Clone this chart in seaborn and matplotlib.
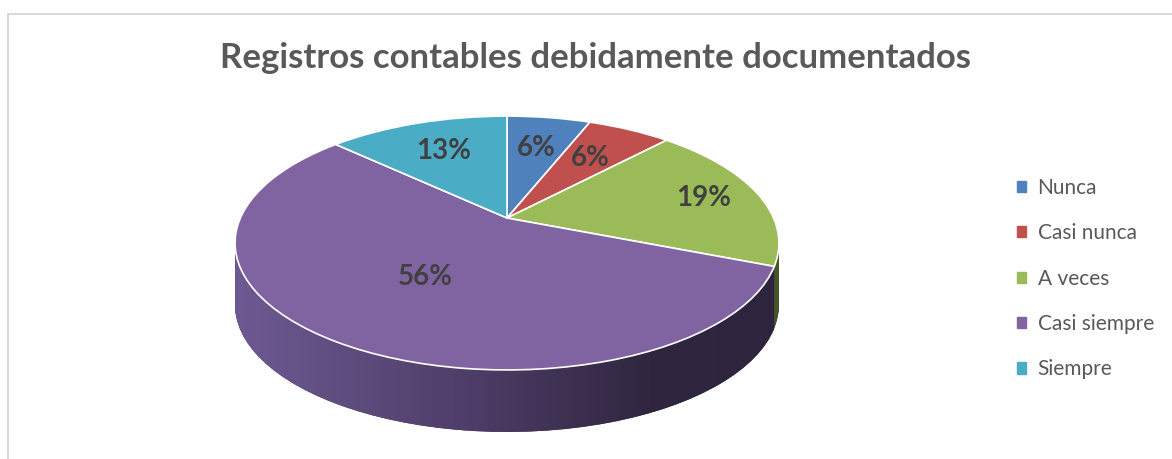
import numpy as np
import matplotlib.pyplot as plt
import matplotlib.patches as mpatches
import seaborn as sns
from matplotlib.colors import to_rgb
from matplotlib.transforms import Transform

categorias = ["Nunca", "Casi nunca", "A veces", "Casi siempre", "Siempre"]
porcentajes = [6, 6, 19, 56, 13]
etiquetas = ["6%", "6%", "19%", "56%", "13%"]
colores = ["#4F81BD", "#C0504D", "#9BBB59", "#8064A2", "#4BACC6"]

sns.set_theme(style="white")
plt.rcParams["font.family"] = ["Lato", "DejaVu Sans"]

W, H = 1172, 459
fig = plt.figure(figsize=(W / 100, H / 100), dpi=100)
ax = fig.add_axes([0, 0, 1, 1])


class Perspectiva(Transform):
    """unit disc -> tilted disc seen in perspective (pixel coords, y up)"""
    input_dims = output_dims = 2

    def __init__(self, cx, cy, sx, sy, a, dz=0.0):
        super().__init__()
        self.cx, self.cy, self.sx, self.sy, self.a, self.dz = cx, cy, sx, sy, a, dz

    def transform_non_affine(self, values):
        v = np.asarray(values, dtype=float).reshape(-1, 2)
        d = 1 + self.a * v[:, 1]
        return np.column_stack([self.cx + self.sx * v[:, 0] / d,
                                self.cy - self.dz + self.sy * v[:, 1] / d])


# pie geometry (pixels)
cx, cy, sx, sy, a, grosor = 507, H - 218, 266.6, 122, 0.197, 62


def persp(dz=0.0):
    return Perspectiva(cx, cy, sx, sy, a, dz) + ax.transData


def oscurecer(c, f):
    r, g, b = to_rgb(c)
    return (r * f, g * f, b * f)


colores_lado = [oscurecer(c, 0.45) for c in colores]

# horizontal gradient for the purple side
xs = np.linspace(230, 785, 400)
paradas = [234, 470, 650, 785]
tonos = np.array([to_rgb(c) for c in ["#6E5A92", "#4E3D68", "#30263F", "#2E243D"]])
grad = np.stack([np.interp(xs, paradas, tonos[:, k]) for k in range(3)], axis=-1)[None, :, :]

# side of the 3d pie: stacked layers from bottom to top
for dz in np.linspace(grosor, 0, 64):
    cuñas, _ = ax.pie(porcentajes, colors=colores_lado, startangle=90, counterclock=False,
                      radius=1, wedgeprops=dict(linewidth=0))
    for w in cuñas:
        w.set_transform(persp(dz))
    im = ax.imshow(grad, extent=(230, 785, 0, H), aspect="auto", zorder=1.5)
    im.set_clip_path(cuñas[3])

# top of the pie
cuñas, _ = ax.pie(porcentajes, colors=colores, startangle=90, counterclock=False,
                  radius=1, wedgeprops=dict(edgecolor="white", linewidth=1.2))
for w in cuñas:
    w.set_transform(persp())
    w.set_zorder(3)

# data labels
p = np.array(porcentajes, dtype=float)
medio = np.deg2rad(90 - 360 * (np.cumsum(p) - p / 2) / p.sum())
radios = [0.66, 0.65, 0.78, 0.52, 0.67]
for ang, r, txt in zip(medio, radios, etiquetas):
    ax.text(r * np.cos(ang), r * np.sin(ang), txt, transform=persp(), ha="center", va="center",
            fontsize=20, fontweight="bold", color="#404040", zorder=4)

ax.set_aspect("auto")
ax.set_xlim(0, W)
ax.set_ylim(0, H)
ax.axis("off")

fig.text(596 / W, 1 - 58 / H, "Registros contables debidamente documentados",
         ha="center", va="center", fontsize=25, fontweight="bold", color="#595959")

handles = [mpatches.Patch(color=c) for c in colores]
fig.legend(handles, categorias, loc="upper left", bbox_to_anchor=(998 / W, 1 - 159 / H),
           frameon=False, fontsize=15, handlelength=0.45, handleheight=0.45,
           handletextpad=0.55, labelspacing=1.22, labelcolor="#595959")

fig.add_artist(mpatches.Rectangle((8 / W, -0.1), 1.2, 1.1 - 14 / H, transform=fig.transFigure,
                                  fill=False, edgecolor="#d9d9d9", linewidth=1.5))

fig.savefig("out.png", dpi=100)
